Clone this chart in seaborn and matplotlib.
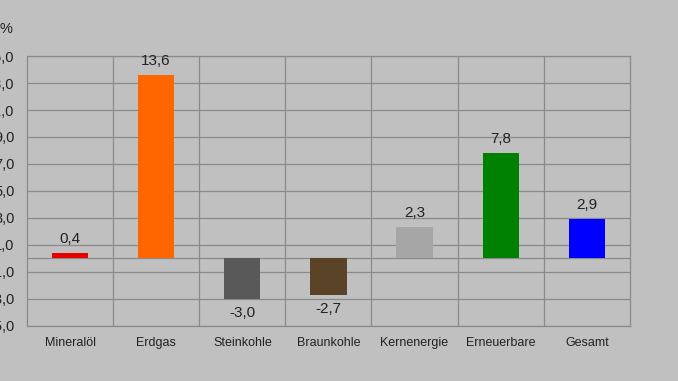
import matplotlib.pyplot as plt
import numpy as np
import pandas as pd
import seaborn as sns

# values
categories = ["Mineralöl", "Erdgas", "Steinkohle", "Braunkohle", "Kernenergie", "Erneuerbare", "Gesamt"]
values = [0.4, 13.6, -3.0, -2.7, 2.3, 7.8, 2.9]
colors = ["#e60000", "#ff6600", "#595959", "#5a4326", "#a6a6a6", "#008000", "#0000ff"]
y_ticks = [-5, -3, -1, 1, 3, 5, 7, 9, 11, 13, 15]

df = pd.DataFrame({"Energieträger": categories, "Wert": values})

sns.set_theme(style="white")
plt.rcParams["font.family"] = ["Liberation Sans", "DejaVu Sans"]

bg = "#c0c0c0"
grid_col = "#8a8a8a"

fig = plt.figure(figsize=(6.78, 3.81), dpi=100, facecolor=bg)
ax = fig.add_axes([0.0398, 0.1444, 0.8892, 0.7086])
ax.set_facecolor(bg)

sns.barplot(
    data=df,
    x="Energieträger",
    y="Wert",
    hue="Energieträger",
    palette=colors,
    order=categories,
    hue_order=categories,
    legend=False,
    width=0.42,
    saturation=1,
    linewidth=0,
    edgecolor="none",
    ax=ax,
    zorder=3,
)

ax.set_xlim(-0.5, len(categories) - 0.5)
ax.set_ylim(-5, 15)
ax.set_yticks(y_ticks)
ax.set_yticklabels([f"{t:.1f}".replace(".", ",") for t in y_ticks], fontsize=10.5, color="#222222")
ax.set_xticks(range(len(categories)))
ax.set_xticklabels(categories, fontsize=9, color="#222222")
ax.set_xticks(np.arange(0.5, len(categories) - 0.5, 1), minor=True)

ax.tick_params(axis="y", which="major", length=3, color=grid_col, pad=6)
ax.tick_params(axis="x", which="both", length=0, pad=8)

ax.grid(axis="y", which="major", color=grid_col, linewidth=0.9, zorder=0)
ax.grid(axis="x", which="minor", color=grid_col, linewidth=0.9, zorder=0)
ax.axhline(0, color=grid_col, linewidth=0.9, zorder=1)

for s in ax.spines.values():
    s.set_color(grid_col)
    s.set_linewidth(0.9)

ax.set_xlabel("")
ax.set_ylabel("")

for cont in ax.containers:
    ax.bar_label(
        cont,
        labels=[f"{v:.1f}".replace(".", ",") for v in cont.datavalues],
        padding=5,
        fontsize=11,
        color="#222222",
    )

fig.text(0.0, 0.925, "%", fontsize=10.5, color="#222222", ha="left", va="center")

fig.savefig("out.png", dpi=100, facecolor=bg)
